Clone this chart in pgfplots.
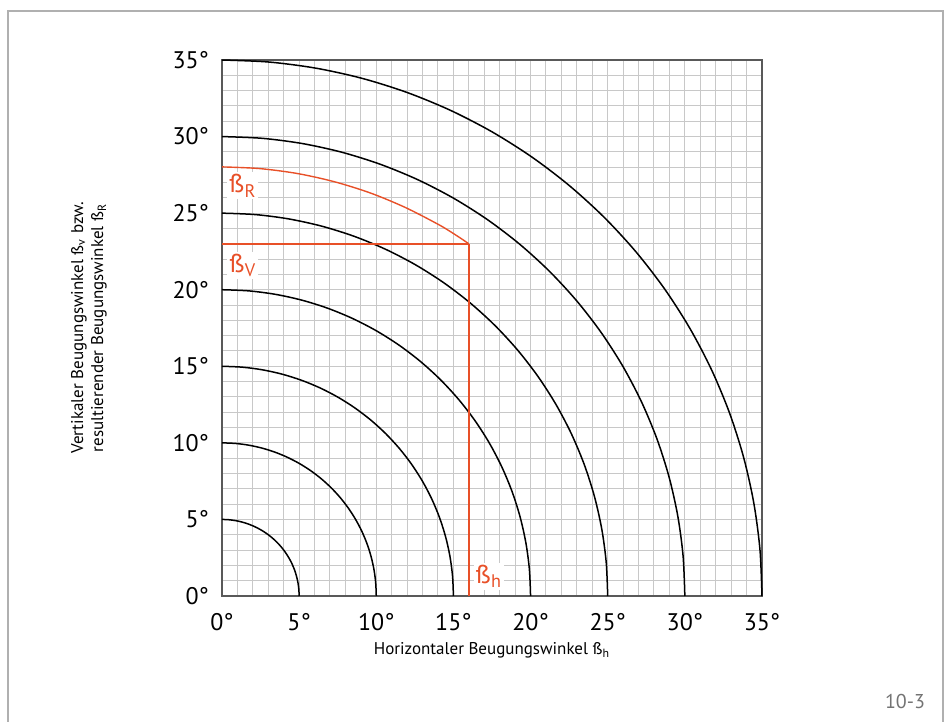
\documentclass[border=0pt]{standalone}
\usepackage{fontspec}
\setmainfont{PT Sans}
\usepackage{pgfplots}
\pgfplotsset{compat=1.18}
\usepackage{pgfplotstable}
\definecolor{redline}{RGB}{232,80,40}
\definecolor{gridc}{RGB}{200,200,200}
\definecolor{framec}{RGB}{176,176,176}
\pgfplotstableread{
cx cy
1.00000 0.00000
0.99619 0.08716
0.98481 0.17365
0.96593 0.25882
0.93969 0.34202
0.90631 0.42262
0.86603 0.50000
0.81915 0.57358
0.76604 0.64279
0.70711 0.70711
0.64279 0.76604
0.57358 0.81915
0.50000 0.86603
0.42262 0.90631
0.34202 0.93969
0.25882 0.96593
0.17365 0.98481
0.08716 0.99619
0.00000 1.00000
}\unitcircle
\begin{document}
\begin{tikzpicture}
\useasboundingbox (-111pt,-63pt) rectangle (363.5pt,298pt);
\draw[framec, line width=1pt] (-107pt,-80pt) -- (-107pt,292.5pt) -- (360.5pt,292.5pt) -- (360.5pt,-80pt);
\begin{axis}[
  scale only axis, width=270pt, height=268pt,
  xmin=0, xmax=35, ymin=0, ymax=35,
  clip=false,
  xtick={0,5,...,35}, ytick={0,5,...,35},
  minor xtick={0,1,...,35}, minor ytick={0,1,...,35},
  xticklabels={0°,5°,10°,15°,20°,25°,30°,35°},
  yticklabels={0°,5°,10°,15°,20°,25°,30°,35°},
  grid=both,
  major grid style={gridc, line width=0.5pt},
  minor grid style={gridc, line width=0.5pt},
  major tick length=0pt, minor tick length=0pt,
  axis line style={draw=black!65, line width=0.8pt},
  ticklabel style={font=\fontsize{12}{14}\selectfont},
  xticklabel style={yshift=-5pt},
  yticklabel style={xshift=-3pt},
  xlabel={Horizontaler Beugungswinkel ß\textsubscript{h}},
  xlabel style={font=\fontsize{8.5}{10}\selectfont, at={(axis description cs:0.5,0)}, anchor=center, yshift=-27pt},
]
\foreach \r in {5,10,...,35}{
  \addplot[black, line width=0.75pt, smooth] table[x expr=\r*\thisrow{cx}, y expr=\r*\thisrow{cy}] {\unitcircle};
}
\addplot[redline, line width=0.7pt, smooth] coordinates {(16,23) (15.06,23.63) (14.01,24.27) (11.84,25.39) (9.58,26.33) (7.25,27.06) (4.87,27.59) (2.44,27.91) (0,28.02)};
\addplot[redline, line width=0.9pt] coordinates {(0,23) (16,23)};
\addplot[redline, line width=0.7pt] coordinates {(16,23) (16,0)};
\node[redline, fill=white, inner sep=1pt, font=\fontsize{13}{15}\selectfont] at (axis cs:1.35,26.8) {ß\textsubscript{R}};
\node[redline, fill=white, inner sep=1pt, font=\fontsize{13}{15}\selectfont] at (axis cs:1.35,21.6) {ß\textsubscript{V}};
\node[redline, fill=white, inner sep=1pt, font=\fontsize{13}{15}\selectfont] at (axis cs:17.3,1.3) {ß\textsubscript{h}};
\end{axis}
\node[rotate=90, align=center, font=\fontsize{8.5}{10}\selectfont] at (-66.5pt,134pt) {Vertikaler Beugungswinkel ß\textsubscript{v} bzw.\\resultierender Beugungswinkel ß\textsubscript{R}};
\node[anchor=east, text=black!55, font=\fontsize{10}{12}\selectfont] at (355pt,-53pt) {10-3};
\end{tikzpicture}
\end{document}
